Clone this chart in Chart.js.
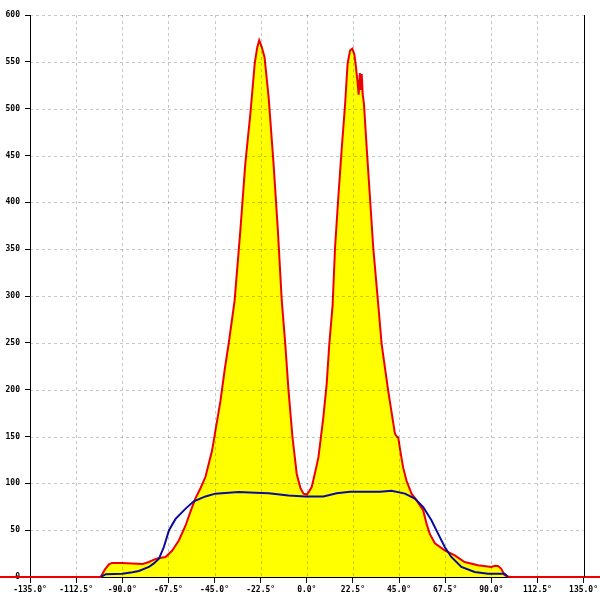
<!DOCTYPE html>
<html>
<head>
<meta charset="utf-8">
<script src="https://cdn.jsdelivr.net/npm/chart.js@4/dist/chart.umd.min.js"></script>
<style>
html,body{margin:0;padding:0;background:#fff;}
#wrap{width:600px;height:600px;position:relative;}
</style>
</head>
<body>
<div id="wrap"><canvas id="c" width="600" height="600"></canvas></div>
<script>
// Angles (degrees) and intensities
const redAngles = [-150, -100.5, -98.5, -96.5, -95, -90, -85, -80, -77, -74.5, -72.5, -68.9, -65.7, -62.4, -59.1, -56.7, -54.3, -51.8, -49.4, -46.2, -42.1, -40, -38.1, -35.2, -32.4, -30, -27.5, -25.4, -24.2, -23.2, -22, -20.6, -18.6, -16.2, -14.1, -12.2, -10.5, -8.9, -7, -4.9, -3.1, -1.6, 0, 1.3, 2.4, 4.2, 5.7, 8.1, 9.7, 11, 12.6, 13.8, 15.4, 17, 18.7, 19.9, 21.1, 22.2, 23.2, 23.8, 24.7, 25.3, 25.9, 26.3, 26.8, 27.3, 27.9, 29.2, 30.8, 32.4, 34.9, 36.5, 39.7, 43, 43.9, 44.6, 45.6, 47, 48.6, 51.1, 53.5, 56.8, 58.4, 60, 62.5, 67.3, 72.2, 77, 83.5, 90, 91.8, 93.2, 94.8, 96.5, 98.1, 99.7, 150];
const redValues = [0, 0, 8, 13.5, 15, 15, 14.5, 14, 16, 18.5, 20, 21.4, 28, 39, 55, 70, 84, 95, 107, 135, 188, 222, 249, 295, 370, 441, 495, 548, 565, 573, 566, 555, 512, 441, 370, 295, 249, 199, 150, 110, 95, 89, 88, 92, 96, 113, 128, 171, 206, 249, 290, 352, 406, 456, 505, 548, 562, 564, 558, 548, 530, 515, 538, 520, 537, 515, 505, 459, 406, 352, 290, 249, 199, 153, 150, 149, 135, 117, 103, 89, 82, 71, 57, 46, 36, 28.5, 23, 16, 12.5, 10.7, 12, 11.7, 9, 2, 0.5, 0, 0];

const blueAngles = [-100.5, -98, -90, -85, -81.9, -77, -74.6, -72.1, -69.7, -67.2, -64, -59.1, -55.1, -49.4, -44.6, -33.2, -25.1, -18.6, -8.9, -0.8, 8.1, 14.6, 21.1, 35.7, 41.3, 47.9, 52.7, 56.8, 60.8, 64.1, 67.3, 70.5, 75.4, 81.9, 88.4, 96.5, 98.1];
const blueValues = [0, 3, 3.6, 5, 6.4, 10.7, 14.5, 19.6, 32, 50, 62, 73, 80.8, 86, 89, 90.7, 90, 89.5, 87, 86, 86, 89.5, 91, 91, 92, 89, 83.7, 74.7, 60.5, 46, 32, 21.4, 10.7, 5.3, 3.6, 3.6, 0];

const xMin = -135, xMax = 135, xStep = 22.5;
const yMin = 0, yMax = 600, yStep = 50;

const redData = redAngles.map((a, i) => ({x: a, y: redValues[i]}));
const blueData = blueAngles.map((a, i) => ({x: a, y: blueValues[i]}));

const overlay = {
  id: 'overlay',
  afterDatasetsDraw(chart) {
    const {ctx, chartArea: ca, scales} = chart;
    ctx.save();
    ctx.strokeStyle = 'rgba(0,0,0,0.22)';
    ctx.lineWidth = 1;
    ctx.setLineDash([3, 3]);
    scales.x.ticks.forEach(t => {
      const px = Math.round(scales.x.getPixelForValue(t.value)) + 0.5;
      if (px <= ca.left + 1 || px >= ca.right - 1) return;
      ctx.beginPath(); ctx.moveTo(px, ca.top); ctx.lineTo(px, ca.bottom); ctx.stroke();
    });
    scales.y.ticks.forEach(t => {
      const py = Math.round(scales.y.getPixelForValue(t.value)) + 0.5;
      if (py >= ca.bottom - 1) return;
      ctx.beginPath(); ctx.moveTo(ca.left, py); ctx.lineTo(ca.right, py); ctx.stroke();
    });
    ctx.setLineDash([]);
    ctx.strokeStyle = '#000';
    const rx = Math.round(ca.right) + 0.5;
    ctx.beginPath(); ctx.moveTo(rx, ca.top); ctx.lineTo(rx, ca.bottom); ctx.stroke();
    ctx.restore();
  }
};

const font = {family: "'DejaVu Sans Mono', monospace", size: 8, weight: 'bold'};

new Chart(document.getElementById('c'), {
  type: 'line',
  data: {
    datasets: [
      {
        data: blueData,
        borderColor: '#0a0a9c',
        borderWidth: 2,
        pointRadius: 0,
        fill: false,
        tension: 0,
        order: 0
      },
      {
        data: redData,
        borderColor: '#ee0000',
        backgroundColor: '#ffff00',
        borderWidth: 2,
        pointRadius: 0,
        fill: 'origin',
        tension: 0,
        clip: false,
        order: 1
      }
    ]
  },
  options: {
    responsive: false,
    animation: false,
    layout: {padding: {top: 15, right: 15, left: 0, bottom: 0}},
    plugins: {legend: {display: false}, tooltip: {enabled: false}},
    scales: {
      x: {
        type: 'linear',
        min: xMin, max: xMax,
        afterFit: s => { s.height = 23; },
        grid: {color: 'transparent', tickColor: '#000', tickLength: 6, drawOnChartArea: false},
        border: {display: true, color: '#000', width: 1},
        ticks: {stepSize: xStep, autoSkip: false, maxRotation: 0, color: '#000', font: font, padding: 2,
          callback: v => v.toFixed(1) + '°'}
      },
      y: {
        min: yMin, max: yMax,
        afterFit: s => { s.width = 30; },
        grid: {color: 'transparent', tickColor: '#000', tickLength: 5, drawOnChartArea: false},
        border: {display: true, color: '#000', width: 1},
        ticks: {stepSize: yStep, color: '#000', font: font, padding: 5}
      }
    }
  },
  plugins: [overlay]
});
</script>
</body>
</html>
